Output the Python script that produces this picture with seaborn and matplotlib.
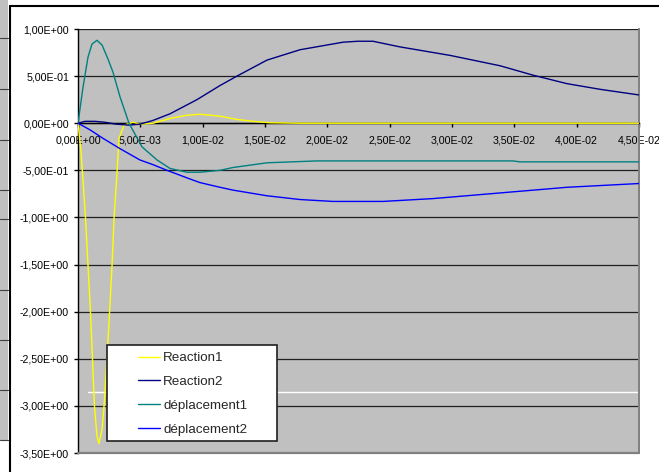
import matplotlib
matplotlib.use("Agg")
import matplotlib.pyplot as plt
from matplotlib.lines import Line2D
from matplotlib.patches import Rectangle
import numpy as np
import pandas as pd
import seaborn as sns

# ---- data -------------------------------------------------------------
series_names = ["Reaction1", "Reaction2", "déplacement1", "déplacement2"]
series_colors = ["#FFFF00", "#000080", "#008080", "#0000FF"]

t_reaction1 = [0, 0.00008, 0.00024, 0.0004, 0.0006, 0.0008, 0.001, 0.00116,
               0.00132, 0.00152, 0.00168, 0.00193, 0.00209, 0.00233, 0.00253,
               0.00273, 0.00289, 0.00313, 0.00329, 0.00369, 0.00417, 0.00441,
               0.00497, 0.00602, 0.00738, 0.00874, 0.00978, 0.01139, 0.01275,
               0.01404, 0.0154, 0.01781, 0.045]
reaction1 = [0, -0.1, -0.3, -0.6, -1.0, -1.5, -2.0, -2.5,
             -3.0, -3.32, -3.40, -3.25, -3.0, -2.5, -2.01,
             -1.51, -1.01, -0.52, -0.16, -0.02, 0.0, 0.01,
             -0.01, 0.0, 0.05, 0.085, 0.095, 0.075, 0.04,
             0.02, 0.005, 0.0, 0.0]

t_reaction2 = [0, 0.00056, 0.00136, 0.00217, 0.00305, 0.00409, 0.00497, 0.00602,
               0.00738, 0.00954, 0.01139, 0.01275, 0.01516, 0.01781, 0.02126,
               0.02246, 0.02366, 0.02583, 0.02984, 0.03385, 0.0365, 0.03922,
               0.04187, 0.045]
reaction2 = [0, 0.02, 0.02, 0.01, -0.01, -0.02, -0.01, 0.03,
             0.10, 0.25, 0.40, 0.50, 0.67, 0.78, 0.86,
             0.87, 0.87, 0.81, 0.72, 0.61, 0.51, 0.42,
             0.36, 0.30]

t_deplacement1 = [0, 0.0004, 0.0008, 0.00112, 0.00152, 0.00193, 0.00241, 0.00281,
                  0.00337, 0.00409, 0.00513, 0.00634, 0.00738, 0.00874, 0.00978,
                  0.01139, 0.01243, 0.01516, 0.01917, 0.03489, 0.03545, 0.045]
deplacement1 = [0, 0.38, 0.70, 0.84, 0.88, 0.83, 0.68, 0.54,
                0.28, 0.0, -0.25, -0.39, -0.48, -0.52, -0.52,
                -0.50, -0.47, -0.42, -0.40, -0.40, -0.41, -0.41]

t_deplacement2 = [0, 0.00096, 0.002, 0.00337, 0.00497, 0.00602, 0.00714, 0.00874,
                  0.00978, 0.01139, 0.01243, 0.01516, 0.01781, 0.02045, 0.02446,
                  0.02847, 0.03385, 0.03922, 0.045]
deplacement2 = [0, -0.07, -0.16, -0.27, -0.39, -0.44, -0.50, -0.58,
                -0.63, -0.68, -0.71, -0.77, -0.81, -0.83, -0.83,
                -0.80, -0.74, -0.68, -0.64]

x_ticks = [0, 0.005, 0.01, 0.015, 0.02, 0.025, 0.03, 0.035, 0.04, 0.045]
x_tick_labels = ["0,00E+00", "5,00E-03", "1,00E-02", "1,50E-02", "2,00E-02",
                 "2,50E-02", "3,00E-02", "3,50E-02", "4,00E-02", "4,50E-02"]
y_ticks = [1.0, 0.5, 0.0, -0.5, -1.0, -1.5, -2.0, -2.5, -3.0, -3.5]
y_tick_labels = ["1,00E+00", "5,00E-01", "0,00E+00", "-5,00E-01", "-1,00E+00",
                 "-1,50E+00", "-2,00E+00", "-2,50E+00", "-3,00E+00", "-3,50E+00"]

# ---- long table for seaborn ----------------------------------------------
frames = []
for name, t, v in zip(series_names,
                      [t_reaction1, t_reaction2, t_deplacement1, t_deplacement2],
                      [reaction1, reaction2, deplacement1, deplacement2]):
    frames.append(pd.DataFrame({"t": t, "valeur": v, "serie": name}))
df = pd.concat(frames, ignore_index=True)
palette = dict(zip(series_names, series_colors))

# ---- figure -----------------------------------------------------------
sns.set_style("white")
plt.rcParams["font.family"] = ["Liberation Sans", "DejaVu Sans"]

W, H = 659, 472
fig = plt.figure(figsize=(W / 100, H / 100), dpi=100)
fig.patch.set_facecolor("white")

# strip of the neighbouring window at the left edge
fig.add_artist(Rectangle((0, 1 - 440 / H), 8 / W, 440 / H,
                         transform=fig.transFigure, facecolor="#C0C0C0",
                         edgecolor="none"))
for yp in [38, 89, 140, 190, 219, 290, 340, 390, 440]:
    fig.add_artist(Line2D([0, 8 / W], [1 - yp / H] * 2, transform=fig.transFigure,
                          color="#404040", lw=0.8))
# chart area border
fig.add_artist(Line2D([9.5 / W] * 2, [0, 1 - 6 / H], transform=fig.transFigure,
                      color="black", lw=1.5))
fig.add_artist(Line2D([9.5 / W, 1], [1 - 6 / H] * 2, transform=fig.transFigure,
                      color="black", lw=1.5))

ax = fig.add_axes([78 / W, 1 - 453 / H, 561 / W, 424 / H])
ax.set_facecolor("#C0C0C0")

# horizontal gridlines
for yv in y_ticks[:-1]:
    ax.axhline(yv, color="#202020", lw=0.9, zorder=1)
ax.axhline(-2.85, xmin=10 / 561, xmax=1, color="white", lw=1.0, zorder=1)

sns.lineplot(data=df, x="t", y="valeur", hue="serie", hue_order=series_names,
             palette=palette, sort=False, estimator=None, linewidth=1.0,
             legend=False, ax=ax, zorder=3)

ax.set_xlim(0, 0.045)
ax.set_ylim(-3.5, 1.0)
ax.set_xlabel("")
ax.set_ylabel("")

ax.set_xticks(x_ticks)
ax.set_xticklabels(x_tick_labels)
ax.set_yticks(y_ticks)
ax.set_yticklabels(y_tick_labels)
ax.tick_params(axis="x", direction="out", length=3, width=1, pad=6,
               labelsize=7.7, colors="black")
ax.tick_params(axis="y", direction="out", length=3, width=1, pad=3.5,
               labelsize=7.7, colors="black")
ax.xaxis.set_ticks_position("bottom")
ax.yaxis.set_ticks_position("left")

ax.spines["top"].set_visible(False)
ax.spines["left"].set_color("black")
ax.spines["left"].set_linewidth(1.0)
ax.spines["bottom"].set_position(("data", 0))
ax.spines["bottom"].set_color("black")
ax.spines["bottom"].set_linewidth(1.0)
ax.spines["right"].set_color("#808080")
ax.spines["right"].set_linewidth(1.4)
ax.add_line(Line2D([0, 1], [0, 0], transform=ax.transAxes, color="#808080",
                   lw=1.6, clip_on=False, zorder=4))

# legend box
ax.add_patch(Rectangle((29 / 561, 12 / 424), 170 / 561, 96 / 424,
                       transform=ax.transAxes, facecolor="white",
                       edgecolor="#202020", lw=1.2, zorder=5))
handles = [Line2D([], [], color=c, lw=1.0) for c in series_colors]
leg = ax.legend(handles, series_names, loc="upper left",
                bbox_to_anchor=(60 / 561, (453 - 352) / 424),
                frameon=False, borderpad=0, borderaxespad=0,
                handlelength=1.65, handletextpad=0.25, labelspacing=0.86,
                fontsize=9.6)
leg.set_zorder(6)

fig.savefig("out.png", dpi=100)
